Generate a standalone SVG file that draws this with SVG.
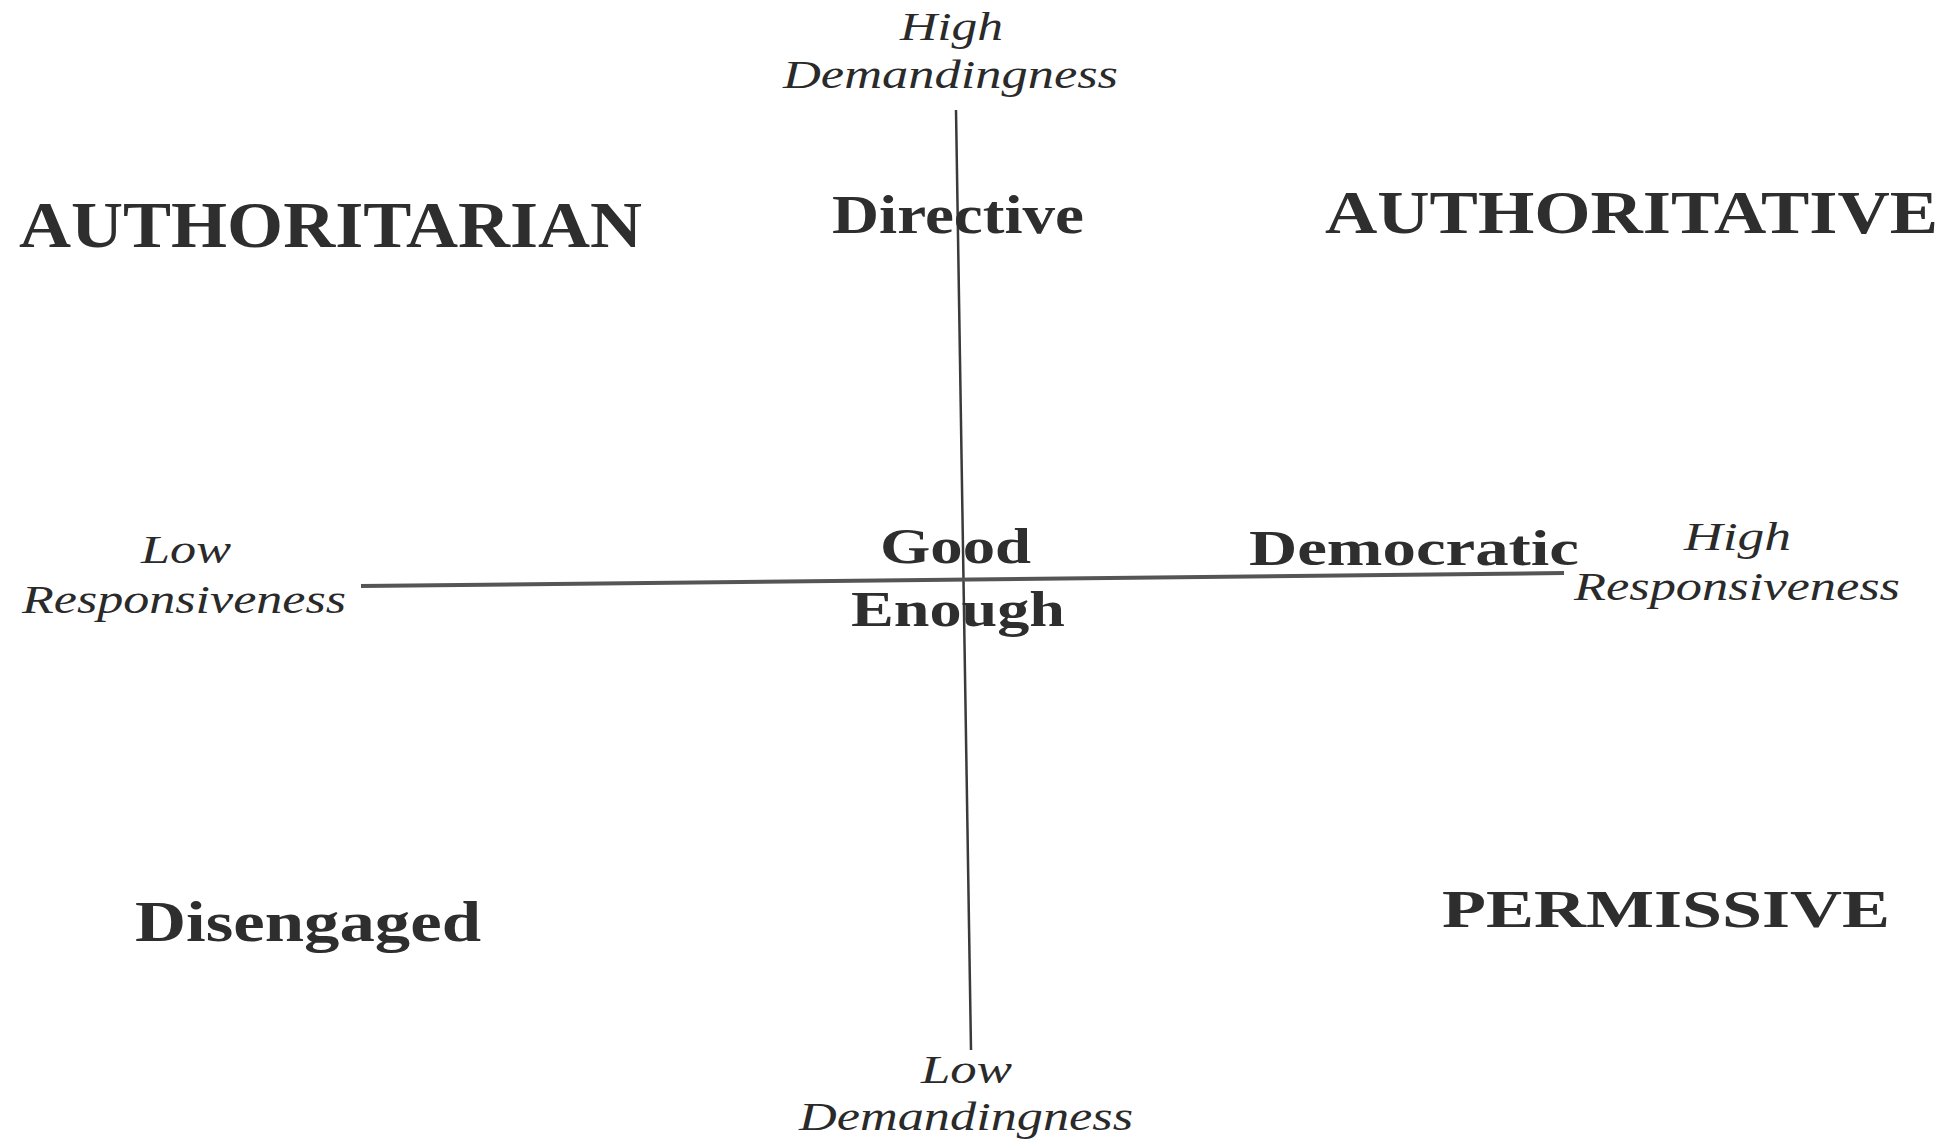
<svg xmlns="http://www.w3.org/2000/svg" width="1954" height="1139" viewBox="0 0 1954 1139">
<style>
.bg{fill:#ffffff}
.axis{stroke:#3a3a3a;stroke-linecap:butt;fill:none}
.v{stroke-width:2.5}
.h{stroke-width:4;stroke:#555555}
.lab{font-family:"Liberation Serif","Times New Roman",serif;font-style:italic;font-size:40px;fill:#2a2a2a}
.big{font-family:"Liberation Serif","Times New Roman",serif;font-weight:bold;fill:#2e2e2e}
</style>
<rect class="bg" x="0" y="0" width="1954" height="1139"/>
<g id="connectors">
  <line class="axis v" x1="956" y1="110" x2="971" y2="1050"/>
  <line class="axis h" x1="361" y1="586" x2="1564" y2="573"/>
</g>
<g id="high-demandingness">
  <text class="lab" x="900" y="40" textLength="103" lengthAdjust="spacingAndGlyphs">High</text>
  <text class="lab" x="783" y="88" textLength="335" lengthAdjust="spacingAndGlyphs">Demandingness</text>
</g>
<g id="low-demandingness">
  <text class="lab" x="921" y="1083" textLength="91" lengthAdjust="spacingAndGlyphs">Low</text>
  <text class="lab" x="799" y="1130" textLength="334" lengthAdjust="spacingAndGlyphs">Demandingness</text>
</g>
<g id="low-responsiveness">
  <text class="lab" x="141" y="563" textLength="90" lengthAdjust="spacingAndGlyphs">Low</text>
  <text class="lab" x="22" y="613" textLength="324" lengthAdjust="spacingAndGlyphs">Responsiveness</text>
</g>
<g id="high-responsiveness">
  <text class="lab" x="1684" y="550" textLength="107" lengthAdjust="spacingAndGlyphs">High</text>
  <text class="lab" x="1574" y="600" textLength="326" lengthAdjust="spacingAndGlyphs">Responsiveness</text>
</g>
<g id="authoritarian">
  <text class="big" x="19" y="247" font-size="65" textLength="623" lengthAdjust="spacingAndGlyphs">AUTHORITARIAN</text>
</g>
<g id="directive">
  <text class="big" x="832" y="233" font-size="54" textLength="252" lengthAdjust="spacingAndGlyphs">Directive</text>
</g>
<g id="authoritative">
  <text class="big" x="1325" y="233" font-size="62" textLength="613" lengthAdjust="spacingAndGlyphs">AUTHORITATIVE</text>
</g>
<g id="good-enough">
  <text class="big" x="880" y="563" font-size="50" textLength="151" lengthAdjust="spacingAndGlyphs">Good</text>
  <text class="big" x="851" y="626" font-size="51" textLength="214" lengthAdjust="spacingAndGlyphs">Enough</text>
</g>
<g id="democratic">
  <text class="big" x="1249" y="565" font-size="50" textLength="330" lengthAdjust="spacingAndGlyphs">Democratic</text>
</g>
<g id="disengaged">
  <text class="big" x="135" y="941" font-size="57" textLength="346" lengthAdjust="spacingAndGlyphs">Disengaged</text>
</g>
<g id="permissive">
  <text class="big" x="1442" y="927" font-size="53" textLength="448" lengthAdjust="spacingAndGlyphs">PERMISSIVE</text>
</g>
</svg>
